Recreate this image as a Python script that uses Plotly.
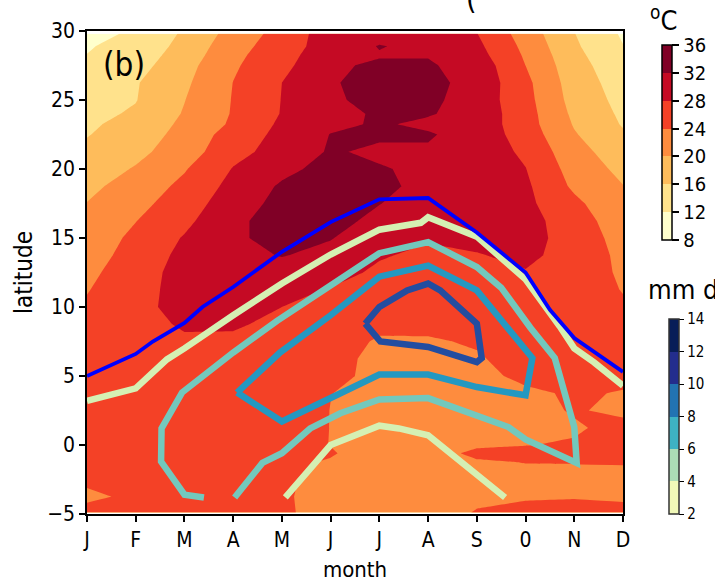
import numpy as np
import plotly.graph_objects as go

months = ["J", "F", "M", "A", "M", "J", "J", "A", "S", "0", "N", "D"]
month_pos = list(range(12))
lat_rows = [-4.9, -3.75, -2.5, -1.25, -0.6, 0, 1.25, 2.5, 3.75, 5, 6.25, 7.5, 8.75, 10, 11.25, 12.5, 13.75, 15,
            16.25, 17.5, 18.75, 20, 21.25, 22.5, 23.25, 24, 25, 26.25, 27.5, 28.25, 28.9, 29.8]

t_jan = [24.5,23.7,24.3,24.6,24.7,24.8,25,25.2,25.3,25.3,25.3,25.2,25,24.5,23.8,23,22.2,21.6,20.8,20.1,19,18,16.9,15.8,15.4,14.9,14.3,13.6,12.8,12.05,11.7,11.2]
t_feb = [24.6,24.3,24.8,25,25.2,25.3,25.6,25.8,26,26.3,26.5,26.7,26.8,26.9,26.6,26.4,25.6,24.9,23.9,22.8,21.8,20.3,19,18.1,17.3,16.5,15.85,15.7,14.5,13.9,13.4,12.4]
t_mar = [24.9,25,25.2,25.4,25.5,25.6,26,26.3,26.5,26.8,27,27.5,28.4,29.3,29.4,29.3,29,28.3,27,26,24.9,23.7,22,21.2,20.8,20.3,19.9,19.3,18.6,17.8,17.2,16.6]
t_apr = [25,25.1,25.3,25.5,25.6,25.8,26,26.3,26.6,26.9,27.3,27.7,28.2,28.9,29.5,30,30.8,31.5,31.4,30.2,29.2,28.2,26.8,25.8,24.6,24.3,24.2,24.05,23.5,23,22.5,21.5]
t_may = [24.2,24.1,24.2,24.5,24.8,25,25.6,25.9,26.2,26.5,26.8,27.2,27.6,28,29,30.3,32.2,33,33.2,33.1,32.5,31,29.5,29,28.7,28.2,28.1,28,26.8,26.5,26,25.5]
t_jun = [23.5,23.7,23.6,23.8,24.2,23.95,23.95,23.95,24.05,24.6,25,25.2,26,27,27.8,29.2,30.8,32.2,33.3,33.8,33.8,33.3,32.4,32.1,31.2,31,31.2,31.5,31.6,30.5,30,30]
t_jul = [22.5,22.5,22.6,22.8,22.8,22.9,23,23.1,23.2,23.4,23.2,23.7,24.6,25.6,26.5,27.4,28.3,29.5,31,32.1,33,32.3,31.3,32.6,32.4,32.4,33.6,34,32.4,31.8,32.15,30.8]
t_aug = [22.5,22.5,22.6,22.7,22.8,22.8,22.9,23,23.1,23.2,23.4,23.7,24.7,25.5,26,26.5,27.3,28.3,29.4,30.2,30.8,31.2,31.6,32.35,31.3,32.3,32.8,33,32.4,31.8,31.2,30.8]
t_sep = [24.2,23.4,23.2,23.7,24.6,23.6,23.4,23.3,23.3,23.5,23.7,24.3,25.3,26,26.6,27.1,27.9,28.5,29,29.5,29.8,30,30.3,30.5,30.5,30.6,30.4,30.8,30.5,29.5,28.9,28.1]
t_oct = [24.3,23.9,23.4,24.05,24.6,23.95,23.5,23.4,23.7,24.4,25.2,25.8,26.3,26.8,27.3,27.9,28.4,28.7,29.1,28.9,28.7,28.1,27.3,26.2,25.7,25.6,25.3,25,24,23.5,23,22.2]
t_nov = [24.6,23.9,23.6,24.05,24.6,24.15,23.8,24.15,24.2,24.9,25.3,25.6,26,26.3,26.6,27,27.3,27.2,26.4,24.9,23.3,22.4,21.4,20.3,19.7,19.2,18.6,18.1,17.6,17.1,16.6,16.1]
t_dec = [24.6,23.7,23.5,24.1,24.9,24.5,24.5,23.65,23.9,24.4,24.8,25,25,24.6,23.8,23.2,22.8,22,21.2,20.8,20.1,19,17.9,16.5,15.7,15.3,14.8,14.2,13.3,12.6,12.1,11.5]

itcz_x = [0, 1, 1.35, 2, 2.37, 3, 4, 5, 6, 7, 8, 9, 9.5, 10, 11]
itcz_y = [5, 6.6, 7.5, 8.84, 10, 11.45, 14, 16.15, 17.8, 17.9, 15.4, 12.5, 9.8, 7.75, 5.3]

rain4a_x = [0, 1, 1.64, 2, 3, 4, 5, 6, 6.85, 7, 8, 9, 9.7, 10, 10.4, 11]
rain4a_y = [3.2, 4.1, 6.2, 7, 9.4, 11.7, 13.8, 15.6, 16.1, 16.5, 15.1, 12, 8.6, 7, 6, 4.3]
rain4b_x = [4.07, 5, 6, 6.4, 7, 7.76, 8.58]
rain4b_y = [-3.8, 0, 1.4, 1.2, 0.7, -1.4, -3.8]

rain6_x = [2.4, 2, 1.52, 1.53, 1.95, 3, 3.9, 5, 6, 7, 8, 8.5, 9.1, 9.6, 10, 10.05, 9, 8.65, 7, 6, 5.2, 4.58, 4, 3.6, 3.03]
rain6_y = [-3.8, -3.6, -1.2, 1.2, 3.8, 6.7, 9, 11.5, 13.9, 14.7, 12.9, 11.4, 8.5, 6.3, 1.3, -1.3, 0.4, 1.3, 3.4, 3.3, 2.3, 1.2, -0.6, -1.3, -3.8]

rain8_x = [3.08, 3.96, 5, 6, 7, 8, 9.14, 9, 8, 7, 6, 5.25, 4, 3.08]
rain8_y = [3.8, 6.7, 9.4, 12.2, 13, 11.2, 6.3, 3.6, 4.2, 5.1, 5.1, 3.8, 1.7, 3.8]

rain10_x = [5.71, 6, 6.57, 7, 7.25, 8, 8.1, 8, 7, 6.02, 5.71]
rain10_y = [8.8, 10, 11.2, 11.7, 11.2, 8.8, 6.3, 6, 7.1, 7.5, 8.8]

temp_levels = [8, 12, 16, 20, 24, 28, 32, 36]
temp_colors = ["#ffffcc", "#ffe28c", "#febc5b", "#fe8c3e", "#f44126", "#c50a24", "#800026"]
rain_levels = [2, 4, 6, 8, 10, 12, 14]
rain_colors = ["#f1f9b8", "#acdcb6", "#3eb2c3", "#2273b2", "#232d8d", "#081d58"]

z = np.array([t_jan, t_feb, t_mar, t_apr, t_may, t_jun, t_jul, t_aug, t_sep, t_oct, t_nov, t_dec]).T


def stepped(colors):
    n = len(colors)
    out = []
    for i, c in enumerate(colors):
        out += [[i / n, c], [(i + 1) / n, c]]
    return out


FONT = "DejaVu Sans Condensed, DejaVu Sans"
W, H = 715, 582
L, R, T, B = 87, 623, 31, 514


def px_x(px):
    return px / W


def px_y(py):
    return (H - py) / H


fig = go.Figure()
fig.add_trace(go.Contour(
    x=month_pos, y=lat_rows, z=z, autocontour=False,
    contours=dict(start=8, end=36, size=4, coloring="fill", showlines=False),
    line=dict(width=0, smoothing=0), zmin=8, zmax=36, colorscale=stepped(temp_colors),
    hoverinfo="skip",
    colorbar=dict(
        thickness=10, thicknessmode="pixels", len=195, lenmode="pixels",
        x=px_x(662), xanchor="left", y=px_y(45), yanchor="top", xpad=0, ypad=0,
        outlinewidth=1.5, outlinecolor="black", tickvals=temp_levels, ticks="outside",
        ticklen=7, tickwidth=1.5, tickcolor="black", tickprefix="\u00a0",
        tickfont=dict(family=FONT, size=20, color="black"),
    ),
))

for xs, ys, col, wid in [
    (rain6_x, rain6_y, "#73c8bd", 6.5),
    (rain8_x, rain8_y, "#2498c1", 6.5),
    (rain10_x, rain10_y, "#234da0", 6.5),
    (rain4b_x, rain4b_y, "#d5f0b3", 6.5),
    (rain4a_x, rain4a_y, "#d5f0b3", 6.5),
    (itcz_x, itcz_y, "#0000ff", 3.8),
]:
    fig.add_trace(go.Scatter(x=xs, y=ys, mode="lines", showlegend=False, hoverinfo="skip",
                             line=dict(color=col, width=wid)))

# rainfall colour bar
fig.add_trace(go.Scatter(
    x=[None], y=[None], mode="markers", showlegend=False, hoverinfo="skip",
    marker=dict(
        color=[2], cmin=2, cmax=14, colorscale=stepped(rain_colors), showscale=True,
        colorbar=dict(
            thickness=10, thicknessmode="pixels", len=195, lenmode="pixels",
            x=px_x(669), xanchor="left", y=px_y(319), yanchor="top", xpad=0, ypad=0,
            outlinewidth=1.5, outlinecolor="#333333", tickvals=rain_levels, ticks="outside",
            ticklen=5, tickwidth=1.2, tickcolor="black",
            tickfont=dict(family=FONT, size=15, color="black"),
        ),
    ),
))


def note(text, px, py, size, xanchor="center", angle=0):
    fig.add_annotation(text=text, x=px_x(px), y=px_y(py), xref="paper", yref="paper", showarrow=False,
                       xanchor=xanchor, yanchor="middle", textangle=angle,
                       font=dict(family=FONT, size=size, color="black"))


note("(b)", 124, 64, 33)
note("<sup>o</sup>C", 663, 18, 27)
note("mm d<sup>-1</sup>", 646, 287, 27, xanchor="left")
note("(", 471, -2, 30)

axis = dict(showline=True, linecolor="black", linewidth=1.6, mirror=True, ticks="outside", ticklen=6,
            tickwidth=1.6, tickcolor="black", showgrid=False, zeroline=False,
            tickfont=dict(family=FONT, size=21, color="black"))
fig.update_xaxes(range=[0, 11], tickvals=month_pos, ticktext=months, domain=[L / W, R / W],
                 title=dict(text="month", font=dict(family=FONT, size=22, color="black"), standoff=13), **axis)
fig.update_yaxes(range=[-5, 30], tickvals=[-5, 0, 5, 10, 15, 20, 25, 30], domain=[(H - B) / H, (H - T) / H],
                 title=dict(text="latitude", font=dict(family=FONT, size=24, color="black"), standoff=8), **axis)
fig.update_layout(width=W, height=H, margin=dict(l=0, r=0, t=0, b=0, autoexpand=False), autosize=False,
                  paper_bgcolor="white", plot_bgcolor="white", showlegend=False)
fig.write_html("out.html", config=dict(displayModeBar=False),
               post_script="document.body.style.margin='0';document.documentElement.style.overflow='hidden';")
